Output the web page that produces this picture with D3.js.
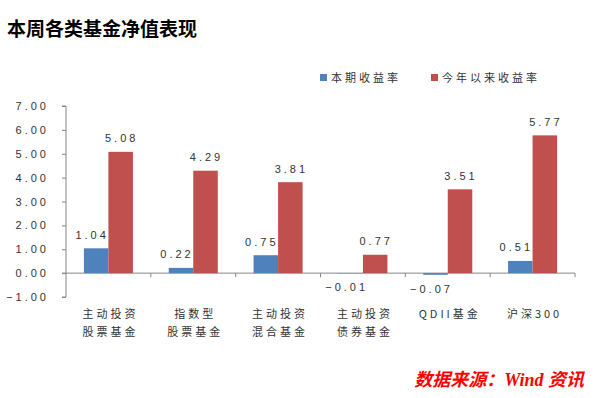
<!DOCTYPE html>
<html>
<head>
<meta charset="utf-8">
<script src="https://cdn.jsdelivr.net/npm/d3@7"></script>
<style>
  body { margin: 0; background: #fff; }
  text { font-family: "Noto Sans CJK SC", "Liberation Sans", sans-serif; fill: #333; }
</style>
</head>
<body>
<div id="chart"></div>
<script>
// chart data
const categories = [["主动投资", "股票基金"], ["指数型", "股票基金"], ["主动投资", "混合基金"], ["主动投资", "债券基金"], ["QDII基金"], ["沪深300"]];
const seriesNames = ["本期收益率", "今年以来收益率"];
const weekReturn = [1.04, 0.22, 0.75, -0.01, -0.07, 0.51];
const ytdReturn = [5.08, 4.29, 3.81, 0.77, 3.51, 5.77];
const yTicks = [-1, 0, 1, 2, 3, 4, 5, 6, 7];
const colors = ["#4f81bd", "#c0504d"];

const width = 601, height = 398;

const svg = d3.select("#chart")
    .append("svg")
    .attr("width", width)
    .attr("height", height);

// title
svg.append("text")
    .attr("x", 7)
    .attr("y", 36)
    .style("font-size", "19px")
    .style("font-weight", "bold")
    .style("fill", "#000")
    .text("本周各类基金净值表现");

const keys = categories.map((d, i) => i);

const x = d3.scaleBand()
    .domain(keys)
    .range([66, 575]);

const x1 = d3.scaleBand()
    .domain(seriesNames)
    .range([0, x.bandwidth()])
    .paddingOuter(0.73);

const y = d3.scaleLinear()
    .domain([-1, 7])
    .range([297, 106]);

// y axis
const yAxis = svg.append("g")
    .attr("transform", "translate(66,0)")
    .call(d3.axisLeft(y).tickValues(yTicks).tickSize(4).tickPadding(13).tickFormat(d3.format(".2f")));
yAxis.select(".domain").attr("stroke", "#868686").attr("d", "M-4," + y(-1) + "H0V" + y(7) + "H-4");
yAxis.selectAll(".tick line").attr("stroke", "#868686");
yAxis.selectAll(".tick text")
    .style("font-family", "Liberation Sans, sans-serif")
    .style("font-size", "11px")
    .style("letter-spacing", "3px")
    .style("fill", "#333")
    .text(d => d3.format(".2f")(d).replace("-", "−"));

// zero line with category boundary ticks
const zero = svg.append("g");
zero.append("line")
    .attr("x1", 62).attr("x2", 575)
    .attr("y1", y(0)).attr("y2", y(0))
    .attr("stroke", "#868686");
zero.selectAll("line.sep")
    .data(keys)
    .enter().append("line")
    .attr("class", "sep")
    .attr("x1", d => x(d) + x.bandwidth())
    .attr("x2", d => x(d) + x.bandwidth())
    .attr("y1", y(0))
    .attr("y2", y(0) + 4)
    .attr("stroke", "#868686");

// bars
const barData = [];
keys.forEach(i => {
    barData.push({ i: i, s: 0, v: weekReturn[i] });
    barData.push({ i: i, s: 1, v: ytdReturn[i] });
});

svg.selectAll(".bar")
    .data(barData)
    .enter().append("rect")
    .attr("class", "bar")
    .attr("x", d => x(d.i) + x1(seriesNames[d.s]))
    .attr("width", x1.bandwidth())
    .attr("y", d => y(Math.max(0, d.v)))
    .attr("height", d => Math.abs(y(d.v) - y(0)))
    .attr("fill", d => colors[d.s]);

// value labels
svg.selectAll(".val")
    .data(barData)
    .enter().append("text")
    .attr("class", "val")
    .attr("text-anchor", "middle")
    .attr("x", d => x(d.i) + x1(seriesNames[d.s]) + x1.bandwidth() / 2 + (d.s === 0 ? -4 : 1))
    .attr("y", d => d.v >= 0 ? y(d.v) - 9.5 : y(d.v) + 18)
    .style("font-family", "Liberation Sans, sans-serif")
    .style("font-size", "11px")
    .style("letter-spacing", "3px")
    .text(d => d3.format(".2f")(d.v).replace("-", "−"));

// category labels
const cat = svg.selectAll(".cat")
    .data(keys)
    .enter().append("text")
    .attr("class", "cat")
    .attr("text-anchor", "middle")
    .attr("x", d => x(d) + x.bandwidth() / 2 + 2)
    .attr("y", 318)
    .style("font-size", "11px")
    .style("letter-spacing", "3px");
cat.selectAll("tspan")
    .data(d => categories[d].map((t, j) => ({ t: t, j: j })))
    .enter().append("tspan")
    .attr("x", function () { return d3.select(this.parentNode).attr("x"); })
    .attr("dy", d => d.j === 0 ? 0 : 18)
    .text(d => d.t);

// legend
const legend = svg.selectAll(".legend")
    .data(seriesNames)
    .enter().append("g")
    .attr("class", "legend")
    .attr("transform", (d, i) => "translate(" + [320, 431][i] + ",74)");
legend.append("rect")
    .attr("width", 7).attr("height", 7)
    .attr("fill", (d, i) => colors[i]);
legend.append("text")
    .attr("x", 11)
    .attr("y", 8)
    .style("font-size", "11px")
    .style("letter-spacing", "3px")
    .text(d => d);

// source note
const src = svg.append("text")
    .attr("x", 584)
    .attr("y", 386)
    .attr("text-anchor", "end")
    .style("font-size", "18px")
    .style("font-weight", "bold")
    .style("font-style", "italic")
    .style("fill", "#ff0000");
src.append("tspan").text("数据来源：");
src.append("tspan").style("font-family", "Liberation Serif, serif").text("Wind ");
src.append("tspan").text("资讯");
</script>
</body>
</html>
